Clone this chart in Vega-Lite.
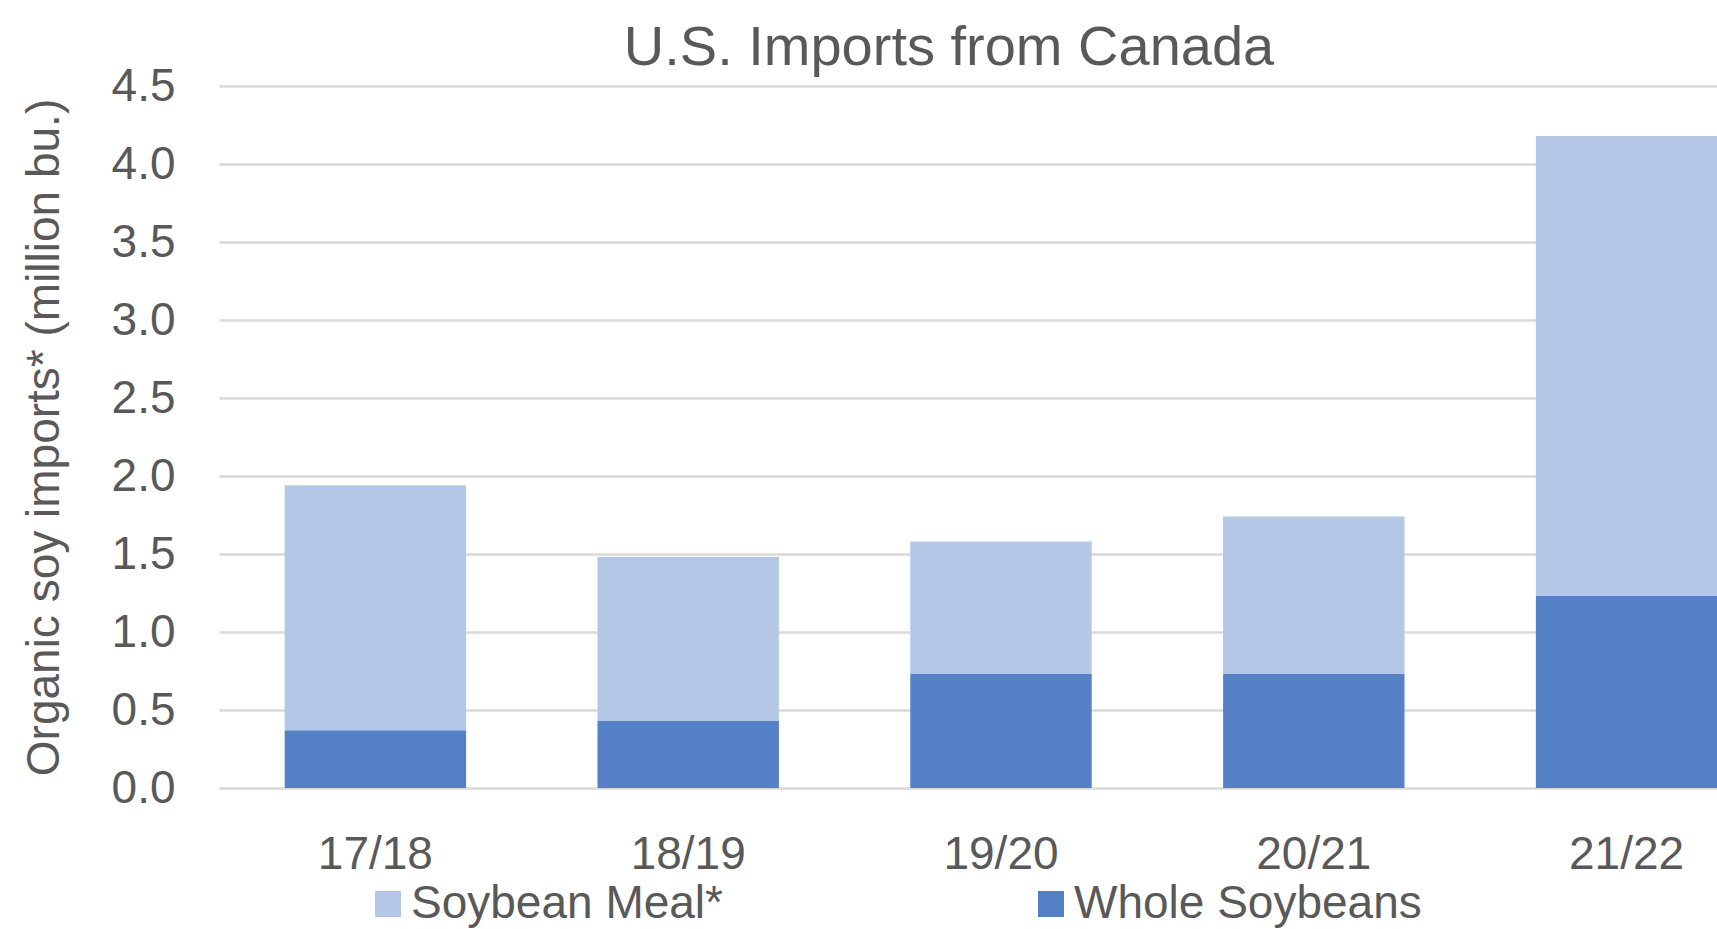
{
  "$schema": "https://vega.github.io/schema/vega-lite/v6.json",
  "autosize": "none",
  "padding": {"left": 219, "top": 86, "right": 0, "bottom": 141},
  "width": 1498,
  "height": 702,
  "background": "white",
  "config": {
    "view": {"stroke": null},
    "font": "Liberation Sans"
  },
  "title": {
    "text": "U.S. Imports from Canada",
    "fontSize": 56,
    "fontWeight": "normal",
    "color": "#595959",
    "font": "Liberation Sans",
    "anchor": "middle",
    "frame": "group",
    "dx": -19,
    "baseline": "alphabetic",
    "offset": -58
  },
  "data": {
    "values": [
      {"year": "17/18", "type": "Whole Soybeans", "value": 0.37},
      {"year": "17/18", "type": "Soybean Meal*", "value": 1.57},
      {"year": "18/19", "type": "Whole Soybeans", "value": 0.43},
      {"year": "18/19", "type": "Soybean Meal*", "value": 1.05},
      {"year": "19/20", "type": "Whole Soybeans", "value": 0.73},
      {"year": "19/20", "type": "Soybean Meal*", "value": 0.85},
      {"year": "20/21", "type": "Whole Soybeans", "value": 0.73},
      {"year": "20/21", "type": "Soybean Meal*", "value": 1.01},
      {"year": "21/22", "type": "Whole Soybeans", "value": 1.23},
      {"year": "21/22", "type": "Soybean Meal*", "value": 2.95}
    ]
  },
  "mark": {"type": "bar", "clip": true},
  "encoding": {
    "x": {
      "field": "year",
      "type": "nominal",
      "sort": null,
      "scale": {"range": [0, 1564], "paddingInner": 0.42, "paddingOuter": 0.21},
      "axis": {
        "title": null,
        "labelAngle": 0,
        "labelFontSize": 46,
        "labelColor": "#595959",
        "labelBaseline": "alphabetic",
        "labelPadding": 80,
        "ticks": false,
        "tickSize": 0,
        "domain": false,
        "grid": false
      }
    },
    "y": {
      "field": "value",
      "type": "quantitative",
      "stack": "zero",
      "scale": {"domain": [0, 4.5], "nice": false},
      "axis": {
        "title": "Organic soy imports* (million bu.)",
        "titleFontSize": 46,
        "titleFontWeight": "normal",
        "titleColor": "#595959",
        "titleAngle": -90,
        "titleX": -175,
        "titleY": 351,
        "titleBaseline": "middle",
        "titleAlign": "center",
        "values": [0, 0.5, 1, 1.5, 2, 2.5, 3, 3.5, 4, 4.5],
        "format": ".1f",
        "labelFontSize": 46,
        "labelColor": "#595959",
        "labelPadding": 44,
        "ticks": false,
        "tickSize": 0,
        "domain": false,
        "grid": true,
        "gridColor": "#D9D9D9",
        "gridWidth": 2.5
      }
    },
    "color": {
      "field": "type",
      "type": "nominal",
      "scale": {"domain": ["Soybean Meal*", "Whole Soybeans"], "range": ["#B4C7E7", "#5481C6"]},
      "legend": {
        "title": null,
        "orient": "none",
        "legendX": 146,
        "legendY": 795,
        "direction": "horizontal",
        "columnPadding": 305,
        "symbolType": "square",
        "symbolSize": 676,
        "symbolStrokeWidth": 0,
        "labelOffset": 0,
        "labelFontSize": 46,
        "labelColor": "#595959",
        "labelLimit": 600
      }
    },
    "order": {"field": "type", "sort": "descending"}
  }
}
